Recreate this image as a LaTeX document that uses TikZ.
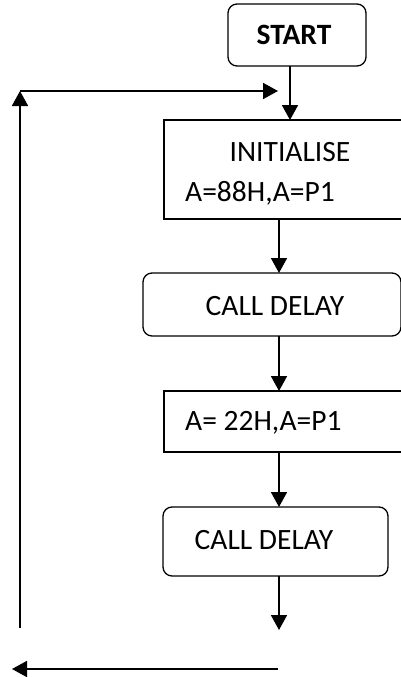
\documentclass[tikz,border=0pt]{standalone}
\usepackage{fontspec}
\setmainfont{Carlito}
\usetikzlibrary{arrows.meta}

\tikzset{
  box/.style={draw, line width=1.3pt, inner sep=0pt, outer sep=0pt},
  roundbox/.style={box, rounded corners=9pt},
  txt/.style={inner sep=0pt, font=\fontsize{29.5}{32}\selectfont},
  arr/.style={line width=1.8pt, -{Triangle[length=15pt,width=16pt]}},
  line/.style={line width=1.8pt}
}

\begin{document}
\begin{tikzpicture}[x=1pt,y=-1pt]
  \useasboundingbox (0,0) rectangle (401,677);
  \clip (0,0) rectangle (401,677);

  % boxes
  \node[roundbox, minimum width=138pt, minimum height=62pt] (start) at (297,35) {};
  \node[txt, font=\fontsize{29.5}{32}\selectfont\bfseries] (starttxt) at (294,35) {START};

  \node[box, minimum width=240pt, minimum height=99pt] (init) at (284,169.5) {};
  \node[txt] (inittxt) at (290,152) {INITIALISE};
  \node[txt, anchor=west] (set1) at (185,193) {A=88H,A=P1};

  \node[roundbox, minimum width=258pt, minimum height=63pt] (call1) at (272,304.5) {};
  \node[txt] (call1txt) at (275,306) {CALL DELAY};

  \node[box, minimum width=240pt, minimum height=61pt] (set2) at (284,421.5) {};
  \node[txt, anchor=west] (set2txt) at (185,423) {A= 22H,A=P1};

  \node[roundbox, minimum width=225pt, minimum height=69pt] (call2) at (275.5,541.5) {};
  \node[txt] (call2txt) at (264,540) {CALL DELAY};

  % free ends of the loop
  \coordinate (ax) at (279,0);
  \coordinate (out) at (279,630);
  \coordinate (lb) at (20,628);
  \coordinate (lt) at (20,91);
  \coordinate (jn) at (278,91);
  \coordinate (br) at (278,669);
  \coordinate (bl) at (12,669);

  % connectors
  \draw[arr] (start.south -| inittxt) -- (init.north -| inittxt);
  \draw[arr] (init.south -| ax) -- (call1.north -| ax);
  \draw[arr] (call1.south -| ax) -- (set2.north -| ax);
  \draw[arr] (set2.south -| ax) -- (call2.north -| ax);
  \draw[arr] (call2.south -| ax) -- (out);

  \draw[arr] (lb) -- (lt);
  \draw[arr] (lt) -- (jn);
  \draw[arr] (br) -- (bl);
\end{tikzpicture}
\end{document}
